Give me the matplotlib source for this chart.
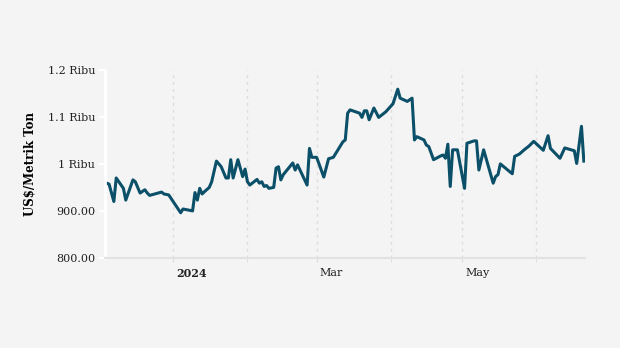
import pandas as pd
import numpy as np
import matplotlib
matplotlib.use('Agg')
import matplotlib.pyplot as plt
import matplotlib.dates as mdates
from matplotlib.ticker import FixedLocator, FuncFormatter

# price series, US$ per metric ton
dates = ['2023-12-04', '2023-12-05', '2023-12-07', '2023-12-08', '2023-12-11', '2023-12-12',
         '2023-12-15', '2023-12-16', '2023-12-18', '2023-12-20', '2023-12-21', '2023-12-22',
         '2023-12-27', '2023-12-28', '2023-12-30', '2024-01-04', '2024-01-05', '2024-01-09',
         '2024-01-10', '2024-01-11', '2024-01-12', '2024-01-13', '2024-01-14', '2024-01-16',
         '2024-01-17', '2024-01-19', '2024-01-21', '2024-01-23', '2024-01-24', '2024-01-25',
         '2024-01-26', '2024-01-28', '2024-01-30', '2024-01-31', '2024-02-01', '2024-02-02',
         '2024-02-05', '2024-02-06', '2024-02-07', '2024-02-08', '2024-02-09', '2024-02-10',
         '2024-02-12', '2024-02-13', '2024-02-14', '2024-02-15', '2024-02-16', '2024-02-20',
         '2024-02-21', '2024-02-22', '2024-02-26', '2024-02-27', '2024-02-28', '2024-03-01',
         '2024-03-04', '2024-03-06', '2024-03-08', '2024-03-12', '2024-03-13', '2024-03-14',
         '2024-03-15', '2024-03-19', '2024-03-20', '2024-03-21', '2024-03-22', '2024-03-23',
         '2024-03-25', '2024-03-27', '2024-03-30', '2024-04-02', '2024-04-04', '2024-04-05',
         '2024-04-08', '2024-04-10', '2024-04-11', '2024-04-12', '2024-04-15', '2024-04-16',
         '2024-04-17', '2024-04-19', '2024-04-22', '2024-04-23', '2024-04-24', '2024-04-25',
         '2024-04-26', '2024-04-27', '2024-04-29', '2024-05-02', '2024-05-03', '2024-05-06',
         '2024-05-07', '2024-05-08', '2024-05-10', '2024-05-14', '2024-05-15', '2024-05-16',
         '2024-05-17', '2024-05-22', '2024-05-23', '2024-05-25', '2024-05-27', '2024-05-29',
         '2024-05-31', '2024-06-04', '2024-06-06', '2024-06-07', '2024-06-11', '2024-06-13',
         '2024-06-17', '2024-06-18', '2024-06-20', '2024-06-21']
prices = [959, 957, 920, 970, 948, 923,
          966, 962, 938, 945, 938, 933,
          940, 936, 934, 896, 904, 900,
          939, 923, 948, 936, 941, 950,
          962, 1006, 994, 970, 970, 1009,
          970, 1009, 973, 989, 962, 955,
          967, 959, 962, 952, 954, 948,
          950, 991, 994, 966, 977, 1002,
          987, 998, 955, 1033, 1014, 1014,
          972, 1011, 1014, 1047, 1051, 1108,
          1115, 1108, 1099, 1113, 1113, 1094,
          1119, 1099, 1111, 1128, 1159, 1140,
          1133, 1140, 1051, 1058, 1051, 1040,
          1037, 1009, 1017, 1019, 1012, 1042,
          952, 1030, 1030, 948, 1044, 1049,
          1049, 987, 1030, 959, 973, 977,
          1000, 979, 1016, 1021, 1030, 1038,
          1048, 1029, 1060, 1033, 1012, 1034,
          1028, 1001, 1080, 1006]

y_ticks = [800, 900, 1000, 1100, 1200]
y_labels = ['800.00', '900.00', '1 Ribu', '1.1 Ribu', '1.2 Ribu']

bg = '#f4f4f4'
line_color = '#0b5068'

x = pd.to_datetime(dates)

fig = plt.figure(figsize=(6.2, 3.48), dpi=100)
fig.patch.set_facecolor(bg)
ax = fig.add_axes([0.169, 0.259, 0.775, 0.54])
ax.set_facecolor(bg)

ax.plot(x, prices, color=line_color, linewidth=2.2, solid_joinstyle='round')

ax.set_xlim(x[0] - pd.Timedelta(days=0.8), x[-1] + pd.Timedelta(days=0.6))
ax.set_ylim(800, 1200)

# month gridlines, labels only every second month
ax.xaxis.set_major_locator(mdates.MonthLocator(bymonth=[1, 3, 5]))
ax.xaxis.set_minor_locator(mdates.MonthLocator(bymonth=[2, 4, 6]))

def month_label(v, pos):
    d = mdates.num2date(v)
    return str(d.year) if d.month == 1 else d.strftime('%b')

ax.xaxis.set_major_formatter(FuncFormatter(month_label))
ax.grid(True, axis='x', which='both', color='#dcdcdc', linestyle=(0, (2, 3)), linewidth=1)
ax.tick_params(axis='x', which='both', length=3, color='#dcdcdc', labelsize=8,
               labelcolor='#222222', pad=4)
for lab in ax.get_xticklabels():
    lab.set_horizontalalignment('left')
    lab.set_fontfamily('DejaVu Serif')
    if lab.get_text() == '2024':
        lab.set_fontweight('bold')
import matplotlib.transforms as mtrans
offset = mtrans.ScaledTranslation(3 / 100, 0, fig.dpi_scale_trans)
for lab in ax.get_xticklabels():
    lab.set_transform(lab.get_transform() + offset)

ax.yaxis.set_major_locator(FixedLocator(y_ticks))
ax.set_yticklabels(y_labels, fontfamily='DejaVu Serif', fontsize=8, color='#222222')
ax.tick_params(axis='y', length=4, width=1.5, color='white', pad=3)

ax.set_ylabel('US$/Metrik Ton', fontfamily='DejaVu Serif', fontweight='bold',
              fontsize=8.5, labelpad=8)

for side in ['top', 'right']:
    ax.spines[side].set_visible(False)
ax.spines['left'].set_color('white')
ax.spines['left'].set_linewidth(2)
ax.spines['bottom'].set_color('#e2e2e2')
ax.spines['bottom'].set_linewidth(1.5)

fig.savefig('out.png', dpi=100, facecolor=bg)
